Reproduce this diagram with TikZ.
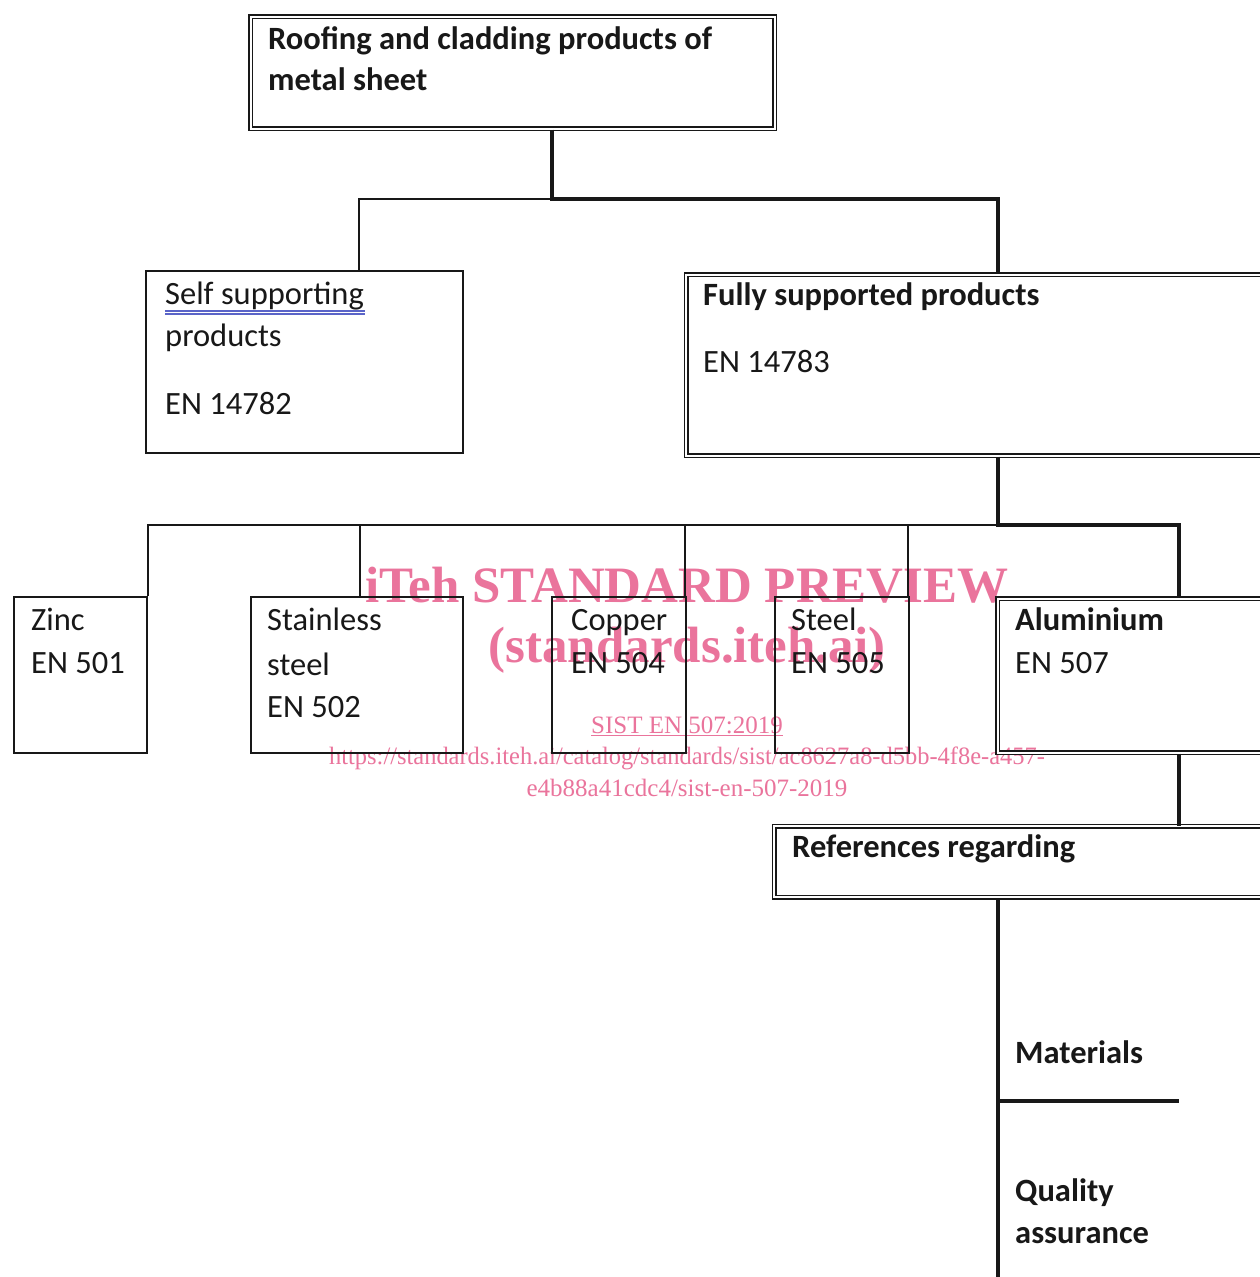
\documentclass[tikz,border=0pt]{standalone}
\usepackage{fontspec}
\setmainfont{Carlito}
\newfontfamily\wmfont{Liberation Serif}
\definecolor{ink}{RGB}{24,24,24}
\definecolor{wmpink}{RGB}{234,116,156}
\definecolor{spellblue}{RGB}{90,100,200}
\begin{document}
\begin{tikzpicture}[x=1pt,y=-1pt,
  box/.style={draw=ink,line width=2pt,inner sep=0pt,anchor=north west},
  dbox/.style={draw=ink,line width=1.5pt,double=white,double distance=2.2pt,inner sep=0pt,anchor=north west},
  txt/.style={anchor=base west,inner sep=0pt,text=ink,font=\fontsize{32.5}{42}\selectfont},
  btxt/.style={txt,font=\fontsize{32.5}{42}\selectfont\bfseries},
  thinln/.style={draw=ink,line width=2pt},
  thickln/.style={draw=ink,line width=3.4pt},
  wm/.style={anchor=base,inner sep=0pt,text=wmpink},
]
\useasboundingbox (0,0) rectangle (1259,1277);
\fill[white] (0,0) rectangle (1259,1277);

% watermark (drawn below the diagram)
\node[wm,font=\wmfont\fontsize{51}{51}\selectfont\bfseries] (wm1) at (687,602) {iTeh STANDARD PREVIEW};
\node[wm,font=\wmfont\fontsize{51}{51}\selectfont\bfseries] (wm2) at (687,662) {(standards.iteh.ai)};
\node[wm,font=\wmfont\fontsize{25}{25}\selectfont] (wm3) at (687,733) {\underline{SIST EN 507:2019}};
\node[wm,font=\wmfont\fontsize{25}{25}\selectfont,xscale=0.978,transform shape] (wm4) at (687,764) {https://standards.iteh.ai/catalog/standards/sist/ac8627a8-d5bb-4f8e-a457-};
\node[wm,font=\wmfont\fontsize{25}{25}\selectfont] (wm5) at (687,796) {e4b88a41cdc4/sist-en-507-2019};

% boxes
\node[dbox,minimum width=524pt,minimum height=112pt] (top) at (250,16) {};
\node[box,minimum width=317pt,minimum height=182pt] (self) at (145,270) {};
\node[dbox,minimum width=640pt,minimum height=181pt] (full) at (685.5,274) {};
\node[box,minimum width=133pt,minimum height=156pt] (zinc) at (13,596) {};
\node[box,minimum width=212pt,minimum height=156pt] (stain) at (250,596) {};
\node[box,minimum width=134.5pt,minimum height=156pt] (copper) at (550.5,596) {};
\node[box,minimum width=134pt,minimum height=156pt] (steel) at (774,596) {};
\node[dbox,minimum width=330pt,minimum height=154pt] (alu) at (997,598) {};
\node[dbox,minimum width=560pt,minimum height=71pt] (ref) at (773.5,825.5) {};

% texts
\node[btxt] (t1) at (268,49) {Roofing and cladding products of};
\node[btxt] (t2) at (268,90) {metal sheet};
\node[txt] (s1) at (165,304) {Self supporting};
\node[txt] (s2) at (165,346) {products};
\node[txt] (s3) at (165,414) {EN 14782};
\draw[spellblue,line width=1.2pt] (s1.base west)++(0,7) -- ++(200,0);
\draw[spellblue,line width=1.2pt] (s1.base west)++(0,10) -- ++(200,0);
\node[btxt] (f1) at (703,305) {Fully supported products};
\node[txt] (f2) at (703,372) {EN 14783};
\node[txt] (z1) at (31,630) {Zinc};
\node[txt] (z2) at (31,673) {EN 501};
\node[txt] (st1) at (267,630) {Stainless};
\node[txt] (st2) at (267,675) {steel};
\node[txt] (st3) at (267,717) {EN 502};
\node[txt] (c1) at (571,630) {Copper};
\node[txt] (c2) at (571,673) {EN 504};
\node[txt] (e1) at (791,630) {Steel};
\node[txt] (e2) at (791,673) {EN 505};
\node[btxt] (a1) at (1015,630) {Aluminium};
\node[txt] (a2) at (1015,673) {EN 507};
\node[btxt] (r1) at (792,857) {References regarding};
\node[btxt] (m1) at (1015,1063) {Materials};
\node[btxt] (q1) at (1015,1201) {Quality};
\node[btxt] (q2) at (1015,1243) {assurance};

% connector junctions
\coordinate (ja) at (552,199);
\coordinate (jb) at (359,199);
\coordinate (jc) at (998,199);
\coordinate (ka) at (998,525);
\coordinate (kb) at (1179,525);
\coordinate (kstain) at (360,525);
\coordinate (kcopper) at (685,525);
\coordinate (ksteel) at (908,525);
\coordinate (mat) at (1179,1101);
\coordinate (bot) at (998,1277);

% level 1
\draw[thinln] (ja) -- (jb) -- (jb |- self.north);
\draw[thickln] (ja |- top.south) -- (ja) -- (jc) -- (jc |- full.north);
% level 2
\draw[thickln] (ka |- full.south) -- (ka) -- (kb) -- (kb |- alu.north);
\draw[thinln] (ka) -- (ka -| zinc.north east) -- (zinc.north east);
\draw[thinln] (kstain) -- (kstain |- stain.north);
\draw[thinln] (kcopper) -- (kcopper |- copper.north);
\draw[thinln] (ksteel) -- (ksteel |- steel.north);
% level 3
\draw[thickln] (kb |- alu.south) -- (kb |- ref.north);
\draw[thickln] (ka |- ref.south) -- (bot);
\draw[thickln] (mat -| bot) -- (mat);
\end{tikzpicture}
\end{document}
